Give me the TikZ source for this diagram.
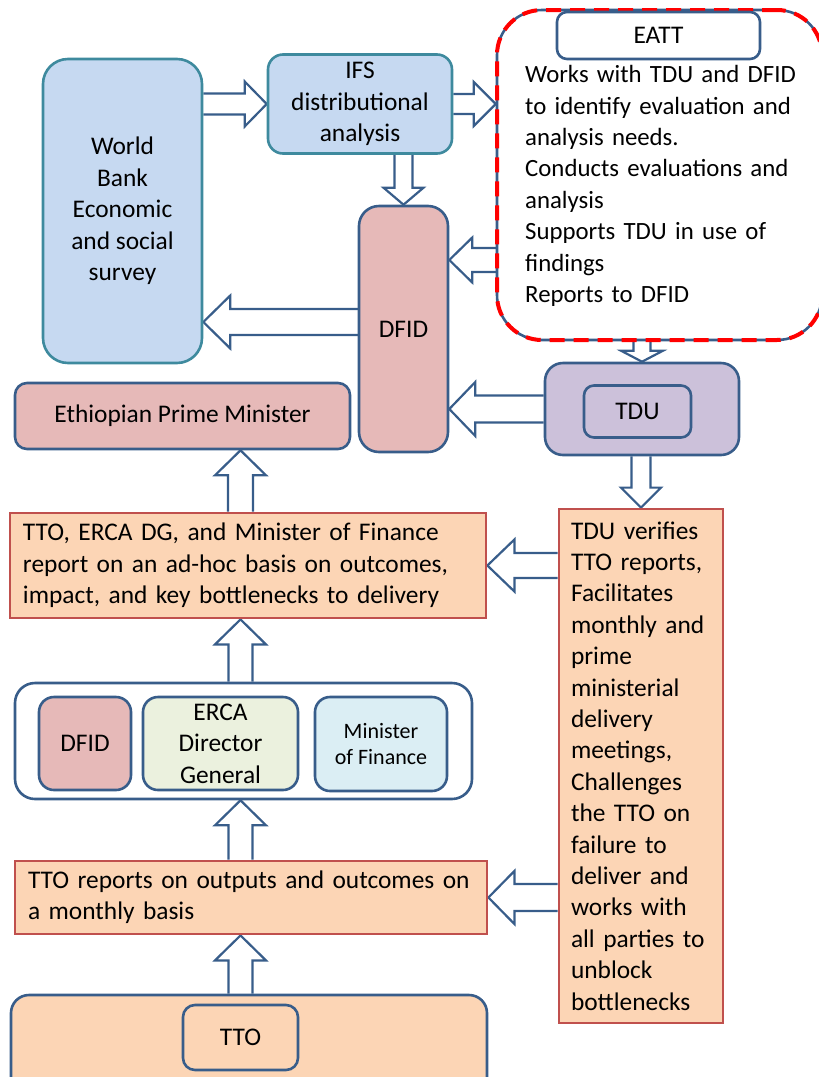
\documentclass[tikz,border=0pt]{standalone}
\usepackage{fontspec}
\setmainfont{Carlito}
\usetikzlibrary{calc,backgrounds}

\definecolor{edgeblue}{HTML}{385D8A}
\definecolor{edgeteal}{HTML}{3E8A9E}
\definecolor{skyfill}{HTML}{C6D9F1}
\definecolor{rosefill}{HTML}{E6B9B8}
\definecolor{lilacfill}{HTML}{CCC1DA}
\definecolor{peachfill}{HTML}{FCD5B5}
\definecolor{peachedge}{HTML}{C0504D}
\definecolor{sagefill}{HTML}{EBF1DE}
\definecolor{icefill}{HTML}{DBEEF4}

\begin{document}
\begin{tikzpicture}[x=1pt, y=-1pt,
    every node/.style={font=\fontsize{25.4}{31.4}\selectfont, inner sep=0pt},
    box/.style={draw=edgeblue, line width=2.6pt, rounded corners=#1},
    box/.default=15pt,
    note/.style={draw=peachedge, fill=peachfill, line width=2.8pt, align=left},
    fat/.style n args={3}{draw=edgeblue, fill=white, line width=2.2pt, line join=miter,
        to path={let \p1=(\tikztostart), \p2=(\tikztotarget), \p3=($(\p2)!#3pt!(\p1)$) in
            ($(\p1)!#1pt!90:(\p2)$) -- ($(\p3)!#1pt!90:(\p2)$) -- ($(\p3)!#2pt!90:(\p2)$)
            -- (\p2) -- ($(\p3)!#2pt!-90:(\p2)$) -- ($(\p3)!#1pt!-90:(\p2)$) -- ($(\p1)!#1pt!-90:(\p2)$)}}]
    \useasboundingbox (0,0) rectangle (819,1077);

    % top row
    \node[box=25pt, draw=edgeteal, fill=skyfill, minimum width=159, minimum height=304, align=center] (wb) at (122.5,211) {World\\Bank\\Economic\\and social\\survey};
    \node[box, draw=edgeteal, fill=skyfill, minimum width=184, minimum height=99, align=center] (ifs) at (360,104) {IFS\\distributional\\analysis};
    \node[box=20pt, fill=rosefill, minimum width=89, minimum height=246] (dfid) at (403.5,329) {DFID};

    \node[box=45pt, fill=white, minimum width=325, minimum height=330,
        postaction={draw=red, line width=4pt, dash pattern=on 15pt off 9pt}] (eatt) at (659.5,175) {};
    \node[box=10pt, fill=white, minimum width=203, minimum height=47] (eatthead) at (658.5,35.5) {EATT};
    \node[text width=300, align=left, anchor=west, font=\fontsize{24.8}{31.4}\selectfont] (eattnotes) at (525,186) {Works with TDU and DFID\\to identify evaluation and\\analysis needs.\\Conducts evaluations and\\analysis\\Supports TDU in use of\\findings\\Reports to DFID};

    \node[box=18pt, fill=lilacfill, minimum width=194, minimum height=92] (tdubox) at (642,409) {};
    \node[box=10pt, fill=lilacfill, minimum width=107, minimum height=52] (tdu) at (637.5,411.5) {TDU};

    \node[box=12pt, fill=rosefill, minimum width=335, minimum height=66] (pm) at (182.5,416) {Ethiopian Prime Minister};

    % reporting chain
    \node[note, minimum width=476, minimum height=105, text width=450] (adhoc) at (248,565.5) {TTO, ERCA DG, and Minister of Finance\\report on an ad-hoc basis on outcomes,\\impact, and key bottlenecks to delivery};

    \node[box=20pt, fill=white, minimum width=457, minimum height=116] (panel) at (243.5,741) {};
    \node[box, fill=rosefill, minimum width=92, minimum height=93] (dfidseat) at (85,743.5) {DFID};
    \node[box, fill=sagefill, minimum width=155, minimum height=93, align=center] (erca) at (220.5,743.5) {ERCA\\Director\\General};
    \node[box, fill=icefill, minimum width=132, minimum height=94, align=center, font=\fontsize{22}{26.5}\selectfont] (mof) at (381,744) {Minister\\of Finance};

    \node[note, minimum width=472, minimum height=73, text width=446] (reports) at (251,897.5) {TTO reports on outputs and outcomes on\\a monthly basis};

    \node[box=18pt, fill=peachfill, minimum width=476, minimum height=100] (ttobase) at (249,1045) {};
    \node[box=12pt, fill=peachfill, minimum width=115, minimum height=65] (tto) at (240.5,1037.5) {TTO};

    \node[note, minimum width=164, minimum height=514, text width=140] (verify) at (641,766) {TDU verifies\\TTO reports,\\Facilitates\\monthly and\\prime\\ministerial\\delivery\\meetings,\\Challenges\\the TTO on\\failure to\\deliver and\\works with\\all parties to\\unblock\\bottlenecks};

    \coordinate (e2d) at (497,260);
    \coordinate (d2w) at (359,322);

    \begin{scope}[on background layer]
        \draw[fat={10.5}{22.5}{22}] (wb.east |- ifs.west) to (ifs.west);
        \draw[fat={10}{22}{22}] (ifs.east) to (ifs.east -| eatt.west);
        \draw[fat={9}{20}{17}] (dfid |- ifs.south) to (dfid.north);
        \draw[fat={12}{22.5}{23}] (e2d) to (dfid.east |- e2d);
        \draw[fat={13}{26.5}{27}] (d2w) to (wb.east |- d2w);
        \draw[fat={8.5}{21}{11}] (tdubox |- eatt.south) to (tdubox.north);
        \draw[fat={13.5}{27}{26}] (tdubox.west) to (dfid.east |- tdubox.west);
        \draw[fat={9.5}{20}{20}] (verify |- tdubox.south) to (verify.north);
        \draw[fat={12.5}{26}{27}] (verify.west |- adhoc.east) to (adhoc.east);
        \draw[fat={13.5}{26.5}{26}] (verify.west |- reports.east) to (reports.east);
        \draw[fat={12.5}{25.5}{25}] (tto |- adhoc.north) to (tto |- pm.south);
        \draw[fat={12}{25.5}{25}] (tto |- panel.north) to (tto |- adhoc.south);
        \draw[fat={12}{25.5}{25}] (tto |- reports.north) to (tto |- panel.south);
        \draw[fat={12}{25.5}{25}] (tto |- ttobase.north) to (tto |- reports.south);
    \end{scope}
\end{tikzpicture}
\end{document}
